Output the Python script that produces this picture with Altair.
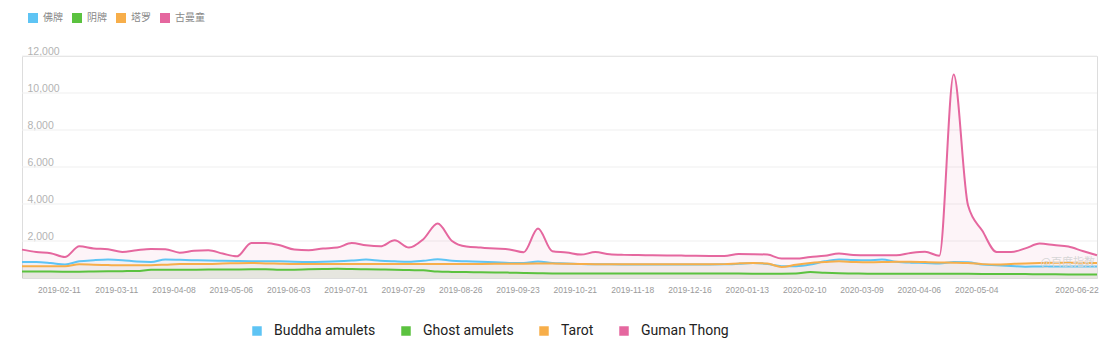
import altair as alt
import pandas as pd

# weekly points
dates = pd.date_range("2019-01-24", periods=76, freq="7D").strftime("%Y-%m-%d").tolist()

series_cn = ["佛牌", "阴牌", "塔罗", "古曼童"]
series_en = ["Buddha amulets", "Ghost amulets", "Tarot", "Guman Thong"]
colors = ["#5ec4f4", "#5bc23f", "#f7ae4a", "#e5679f"]

buddha = [865, 865, 811, 730, 900, 960, 995, 960, 890, 865, 995, 980, 960, 940, 930, 920,
          910, 905, 900, 880, 870, 880, 900, 940, 995, 930, 900, 880, 930, 1010, 930, 903,
          880, 850, 811, 811, 886, 811, 790, 760, 745, 740, 735, 735, 730, 730, 730, 730,
          735, 740, 770, 811, 760, 640, 640, 724, 900, 995, 970, 960, 995, 880, 830, 811,
          780, 860, 850, 730, 690, 650, 610, 620, 620, 620, 620, 625]
ghost = [355, 350, 345, 340, 340, 350, 360, 370, 380, 440, 450, 450, 450, 455, 460, 465,
         470, 470, 440, 450, 470, 486, 500, 486, 470, 460, 450, 430, 416, 346, 330, 320,
         310, 300, 290, 270, 260, 245, 238, 238, 238, 238, 238, 238, 238, 238, 238, 238,
         238, 238, 238, 235, 232, 232, 240, 320, 280, 254, 245, 235, 230, 230, 230, 230,
         230, 228, 225, 222, 220, 215, 210, 205, 200, 195, 190, 185]
tarot = [632, 632, 632, 632, 740, 720, 700, 686, 686, 690, 720, 757, 757, 760, 780, 800,
         811, 790, 770, 757, 757, 757, 757, 757, 757, 757, 757, 757, 757, 757, 757, 757,
         760, 765, 770, 775, 780, 780, 770, 760, 750, 750, 740, 740, 740, 740, 740, 740,
         745, 750, 790, 811, 778, 600, 720, 811, 860, 903, 870, 850, 860, 880, 880, 860,
         840, 830, 810, 750, 730, 760, 790, 811, 820, 830, 830, 811]
guman = [1535, 1405, 1340, 1135, 1713, 1600, 1555, 1405, 1500, 1570, 1560, 1370, 1470, 1500, 1320, 1170,
         1890, 1890, 1767, 1535, 1500, 1590, 1643, 1890, 1767, 1713, 2037, 1643, 2100, 2940, 2000, 1700,
         1643, 1590, 1545, 1390, 2670, 1443, 1380, 1265, 1400, 1280, 1250, 1240, 1230, 1220, 1210, 1200,
         1195, 1190, 1297, 1290, 1265, 1049, 1049, 1140, 1200, 1330, 1240, 1227, 1227, 1227, 1351, 1420,
         1200, 11000, 3930, 2550, 1405, 1405, 1600, 1860, 1780, 1700, 1459, 1227]

tick_dates = ["2019-02-11", "2019-03-11", "2019-04-08", "2019-05-06", "2019-06-03", "2019-07-01",
              "2019-07-29", "2019-08-26", "2019-09-23", "2019-10-21", "2019-11-18", "2019-12-16",
              "2020-01-13", "2020-02-10", "2020-03-09", "2020-04-06", "2020-05-04", "2020-06-22"]
y_ticks = [2000, 4000, 6000, 8000, 10000, 12000]

rows = []
for cn, en, vals in zip(series_cn, series_en, [buddha, ghost, tarot, guman]):
    assert len(vals) == len(dates), (en, len(vals))
    for d, v in zip(dates, vals):
        rows.append({"date": d, "cn": cn, "en": en, "value": v})
df = pd.DataFrame(rows)


def dt(s):
    y, m, d = map(int, s.split("-"))
    return alt.DateTime(year=y, month=m, date=d, utc=True)


x_axis = alt.Axis(
    values=[dt(t) for t in tick_dates], format="%Y-%m-%d",
    title=None, domain=False, ticks=False, grid=False,
    labelColor="#9a9a9a", labelFontSize=8.5, labelFont="Liberation Sans",
    labelPadding=7, labelFlush=False, labelOverlap=False,
)
x_scale = alt.Scale(type="utc", domain=[dt("2019-01-24"), dt("2020-07-02")])
y_axis = alt.Axis(
    values=y_ticks, format=",d", title=None, domain=False, ticks=False, grid=False,
    labelAlign="left", labelBaseline="alphabetic", labelPadding=-5, labelOffset=-2,
    labelColor="#b3b3b3", labelFontSize=10.5, labelFont="Liberation Sans",
)
y_scale = alt.Scale(domain=[0, 12000], nice=False)


def X():
    return alt.X("date:T", scale=x_scale, axis=x_axis)


def Y(field="value:Q"):
    return alt.Y(field, scale=y_scale, axis=y_axis, stack=None)


base = alt.Chart(df)

gridlines = alt.Chart(pd.DataFrame({"value": y_ticks})).mark_rule(
    color="#efefef", strokeWidth=1
).encode(y=Y(), x=alt.value(0), x2=alt.value(1075))

areas = base.mark_area(interpolate="monotone", fillOpacity=0.075).encode(
    x=X(), y=Y(),
    fill=alt.Fill(
        "en:N", scale=alt.Scale(domain=series_en, range=colors), sort=series_en,
        legend=alt.Legend(
            title=None, orient="none", legendX=228, legendY=268, direction="horizontal",
            symbolType="square", symbolSize=90, symbolStrokeWidth=0, symbolOpacity=1,
            labelFont="Roboto", labelFontSize=14, labelColor="#222222", labelOffset=10,
            columnPadding=23, padding=0,
        ),
    ),
)

lines = base.mark_line(interpolate="monotone", strokeWidth=2).encode(
    x=X(), y=Y(),
    stroke=alt.Stroke("en:N", scale=alt.Scale(domain=series_en, range=colors), legend=None),
)

legend_top = base.mark_square(opacity=0, size=1).encode(
    x=X(), y=Y(),
    color=alt.Color(
        "cn:N", scale=alt.Scale(domain=series_cn, range=colors), sort=series_cn,
        legend=alt.Legend(
            title=None, orient="none", legendX=6, legendY=-43, direction="horizontal",
            symbolType="square", symbolSize=100, symbolStrokeWidth=0, symbolOpacity=1,
            labelFont="Noto Sans CJK SC", labelFontSize=10, labelColor="#888888", labelOffset=5,
            columnPadding=9, padding=0,
        ),
    ),
)

watermark = alt.Chart(pd.DataFrame({"t": ["@百度指数"]})).mark_text(
    align="right", baseline="middle", font="Noto Sans CJK SC", fontSize=11, color="#d6d6d6"
).encode(
    x=alt.X("date:T", scale=x_scale, axis=x_axis), y=Y(), text="t:N"
).transform_calculate(date="utc(2020, 6, 1)", value="800")

chart = alt.layer(gridlines, areas, lines, legend_top, watermark).resolve_scale(
    fill="independent", stroke="independent", color="independent"
).properties(
    width=1075, height=222,
    padding={"left": 22, "top": 56, "right": 17, "bottom": 76},
    autosize=alt.AutoSizeParams(type="none"),
).configure_view(stroke="transparent", strokeWidth=0).configure_axis(
    domain=False, grid=False
).configure(background="white")

chart.save("out.html", embed_options={"renderer": "svg", "actions": False})
